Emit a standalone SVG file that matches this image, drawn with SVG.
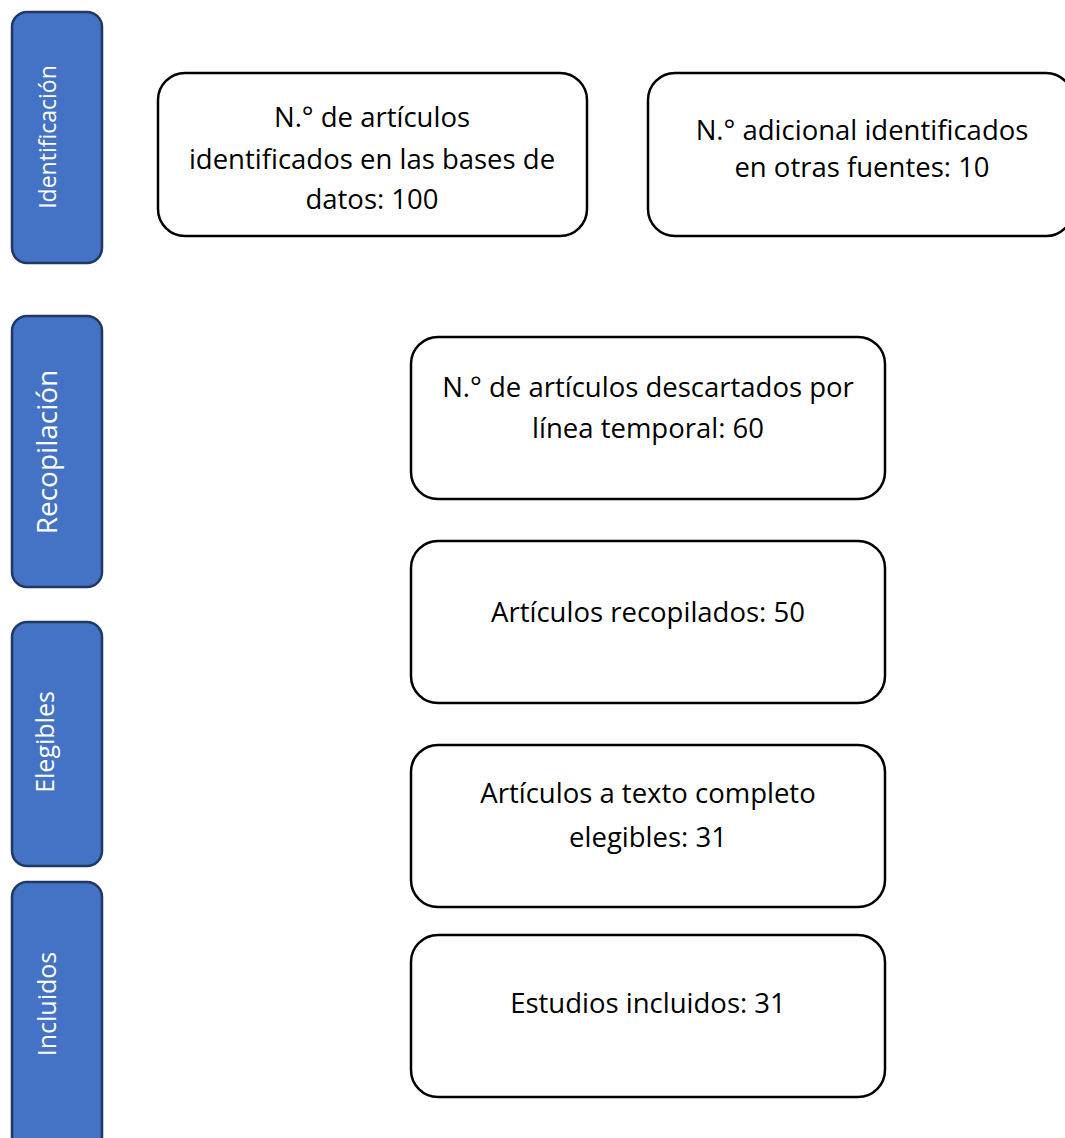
<svg xmlns="http://www.w3.org/2000/svg" width="1065" height="1138" viewBox="0 0 1065 1138">
<style>
.side{fill:#4472C4;stroke:#1F3864;stroke-width:2.5}
.box{fill:#ffffff;stroke:#000000;stroke-width:2.5}
.st{font-family:"Open Sans","Noto Sans",sans-serif;fill:#ffffff;text-anchor:middle}
.bt{font-family:"Open Sans","Noto Sans",sans-serif;font-size:27.5px;fill:#000000;text-anchor:middle}
</style>
<rect width="1065" height="1138" fill="#ffffff"/>
<g id="side-identificacion">
<rect class="side" x="12" y="12" width="90" height="251" rx="15"/>
<text class="st" font-size="23" transform="translate(56,137) rotate(-90)">Identificación</text>
</g>
<g id="side-recopilacion">
<rect class="side" x="12" y="316" width="90" height="271" rx="15"/>
<text class="st" font-size="28" transform="translate(57,452) rotate(-90)">Recopilación</text>
</g>
<g id="side-elegibles">
<rect class="side" x="12" y="622" width="90" height="244" rx="15"/>
<text class="st" font-size="25" transform="translate(54,742) rotate(-90)">Elegibles</text>
</g>
<g id="side-incluidos">
<rect class="side" x="12" y="882" width="90" height="290" rx="15"/>
<text class="st" font-size="25" transform="translate(56,1004) rotate(-90)">Incluidos</text>
</g>
<g id="n1">
<rect class="box" x="158" y="73" width="429" height="163" rx="27"/>
<text class="bt" x="372" y="127">N.° de artículos</text>
<text class="bt" x="372" y="169">identificados en las bases de</text>
<text class="bt" x="372" y="209">datos: 100</text>
</g>
<g id="n2">
<rect class="box" x="648" y="73" width="425" height="163" rx="27"/>
<text class="bt" x="862" y="140">N.° adicional identificados</text>
<text class="bt" x="862" y="177">en otras fuentes: 10</text>
</g>
<g id="n3">
<rect class="box" x="411" y="337" width="474" height="162" rx="27"/>
<text class="bt" x="648" y="397">N.° de artículos descartados por</text>
<text class="bt" x="648" y="438">línea temporal: 60</text>
</g>
<g id="n4">
<rect class="box" x="411" y="541" width="474" height="162" rx="27"/>
<text class="bt" x="648" y="622">Artículos recopilados: 50</text>
</g>
<g id="n5">
<rect class="box" x="411" y="745" width="474" height="162" rx="27"/>
<text class="bt" x="648" y="803">Artículos a texto completo</text>
<text class="bt" x="648" y="847">elegibles: 31</text>
</g>
<g id="n6">
<rect class="box" x="411" y="935" width="474" height="162" rx="27"/>
<text class="bt" x="648" y="1013">Estudios incluidos: 31</text>
</g>
<g id="connectors"></g>
</svg>
